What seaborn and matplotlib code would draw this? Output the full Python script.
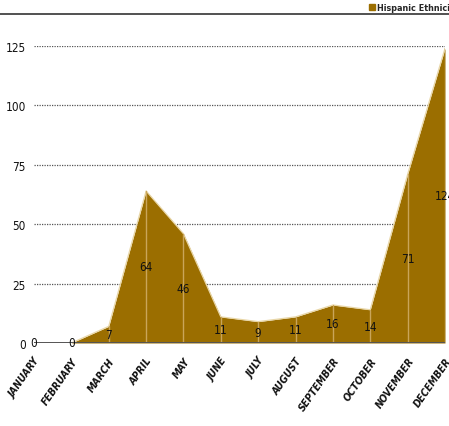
import matplotlib
matplotlib.use("Agg")
import matplotlib.pyplot as plt
from matplotlib.lines import Line2D
from matplotlib.patches import Patch
import seaborn as sns
import pandas as pd

months = ["JANUARY", "FEBRUARY", "MARCH", "APRIL", "MAY", "JUNE", "JULY",
          "AUGUST", "SEPTEMBER", "OCTOBER", "NOVEMBER", "DECEMBER"]
counts = [0, 0, 7, 64, 46, 11, 9, 11, 16, 14, 71, 124]
y_ticks = [0, 25, 50, 75, 100, 125]
series_name = "Hispanic Ethnicity"

FILL = "#9B6E00"
EDGE = "#E9D7A8"
DROP = "#C9A55A"

sns.set_theme(style="white")
plt.rcParams["font.family"] = ["DejaVu Sans"]
plt.rcParams["font.stretch"] = "condensed"

df = pd.DataFrame({"idx": range(len(months)), "month": months, "count": counts})

fig = plt.figure(figsize=(4.49, 4.27), dpi=100)
ax = fig.add_axes([34 / 449, 83 / 427, 411 / 449, 297 / 427])

# filled area with a pale rim along the top edge
ax.fill_between(df["idx"], 0, df["count"], color=FILL, linewidth=0, zorder=2)
sns.lineplot(data=df, x="idx", y="count", ax=ax, color=EDGE, linewidth=0.9,
             zorder=3, legend=False)

# light drop lines at each month
for i, v in zip(df["idx"], df["count"]):
    if v > 0:
        ax.plot([i, i], [0, v], color=DROP, linewidth=1.0, zorder=3)

# dotted gridlines and solid baseline
for t in y_ticks[1:]:
    ax.axhline(t, color="#555555", linestyle=(0, (1, 1)), linewidth=0.9, zorder=1)
ax.axhline(0, color="#555555", linewidth=1.4, zorder=4)

# value labels at half height
for i, v in zip(df["idx"], df["count"]):
    ax.text(i, v / 2, str(v), ha="center", va="center", fontsize=8.5,
            color="#111111", zorder=5, clip_on=False)

ax.set_xlim(0, 11)
ax.set_ylim(0, 125)
ax.set_yticks(y_ticks)
ax.set_yticklabels([str(t) for t in y_ticks], fontsize=8.5, color="#111111")
ax.set_xticks(df["idx"])
ax.set_xticklabels(months, rotation=55, ha="right", rotation_mode="anchor",
                   fontsize=7.5, fontweight="bold", fontstyle="italic",
                   color="#111111")
ax.tick_params(axis="y", length=0, pad=6)
ax.tick_params(axis="x", length=0, pad=9)
ax.set_xlabel("")
ax.set_ylabel("")
for s in ax.spines.values():
    s.set_visible(False)
ax.set_facecolor("none")

# rule under the legend
fig.add_artist(Line2D([0, 1], [1 - 15 / 427, 1 - 15 / 427],
                      transform=fig.transFigure, color="#333333", linewidth=1.2))

handle = Patch(facecolor=FILL, edgecolor=FILL)
fig.legend([handle], [series_name], loc="upper left",
           bbox_to_anchor=(364 / 449, 1.003), frameon=False, borderpad=0.1,
           handlelength=0.6, handleheight=0.6, handletextpad=0.25,
           prop={"size": 6.5, "weight": "bold", "stretch": "condensed"})

fig.savefig("out.png", dpi=100)
